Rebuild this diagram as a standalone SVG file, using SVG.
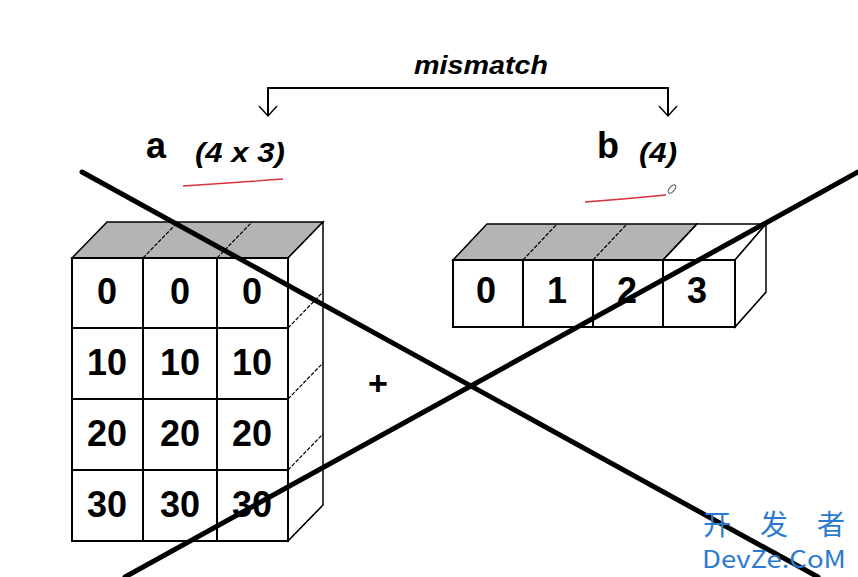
<svg xmlns="http://www.w3.org/2000/svg" width="858" height="577" viewBox="0 0 858 577">
<style>
.edge{fill:none;stroke:#000;stroke-width:2}
.thin{fill:none;stroke:#000;stroke-width:1.2;stroke-dasharray:4 1.5}
.top{fill:#b4b4b4;stroke:#000;stroke-width:1.5}
.side{fill:#fff;stroke:#000;stroke-width:1.5}
.cell{fill:#fff;stroke:#000;stroke-width:2}
.num{font-family:"Liberation Sans",Arial,sans-serif;font-weight:bold;font-size:36px;fill:#000;text-anchor:middle}
.lbl{font-family:"Liberation Sans",Arial,sans-serif;font-weight:bold;fill:#000}
.it{font-family:"Liberation Sans Narrow","Liberation Sans",Arial,sans-serif;font-weight:bold;font-style:italic;fill:#000}
.cross{stroke:#000;stroke-width:5;stroke-linecap:round}
.red{fill:none;stroke:#d9303a;stroke-width:1.3}
.wm{font-family:"Noto Sans CJK SC","Noto Sans",sans-serif;fill:#2b7ad0}
.vee{fill:none;stroke:#000;stroke-width:1.4}
</style>
<rect width="858" height="577" fill="#fff"/>

<g id="connectors">
<path class="edge" d="M268,116 V88 H668 V116" stroke-width="1.8"/>
<path class="vee" d="M259,106 L268,116 L277,106"/>
<path class="vee" d="M659,106 L668,116 L677,106"/>
<text class="it" x="481" y="74" font-size="25" text-anchor="middle" textLength="134" lengthAdjust="spacingAndGlyphs">mismatch</text>
</g>

<g id="label-a">
<text class="lbl" x="146" y="158" font-size="36">a</text>
<text class="it" x="195" y="162" font-size="28" textLength="90" lengthAdjust="spacingAndGlyphs">(4 x 3)</text>
<path class="red" d="M183,186 Q230,183 283,179"/>
</g>

<g id="label-b">
<text class="lbl" x="597" y="158" font-size="36">b</text>
<text class="it" x="639" y="162" font-size="28" textLength="38" lengthAdjust="spacingAndGlyphs">(4)</text>
<path class="red" d="M585,202 Q625,199 666,195"/>
<ellipse cx="672" cy="189" rx="2.5" ry="5" transform="rotate(40 672 189)" fill="#fff" stroke="#555" stroke-width="1"/>
</g>

<g id="array-a">
<polygon class="top" points="72,258 288,258 323,222 107,222"/>
<line class="thin" x1="143" y1="258" x2="178" y2="222"/>
<line class="thin" x1="217" y1="258" x2="252" y2="222"/>
<polygon class="side" points="288,258 323,222 323,505 288,541"/>
<line class="thin" x1="288" y1="328" x2="323" y2="292"/>
<line class="thin" x1="288" y1="399" x2="323" y2="363"/>
<line class="thin" x1="288" y1="470" x2="323" y2="434"/>
<line class="thin" x1="288" y1="541" x2="323" y2="505"/>
<rect class="cell" x="72" y="258" width="216" height="283"/>
<path class="edge" d="M143,258 V541 M217,258 V541 M72,328 H288 M72,399 H288 M72,470 H288"/>
<text class="num" x="107" y="304">0</text>
<text class="num" x="180" y="304">0</text>
<text class="num" x="252" y="304">0</text>
<text class="num" x="107" y="375">10</text>
<text class="num" x="180" y="375">10</text>
<text class="num" x="252" y="375">10</text>
<text class="num" x="107" y="446">20</text>
<text class="num" x="180" y="446">20</text>
<text class="num" x="252" y="446">20</text>
<text class="num" x="107" y="517">30</text>
<text class="num" x="180" y="517">30</text>
<text class="num" x="252" y="517">30</text>
</g>

<g id="array-b">
<polygon class="top" points="453,260 663,260 697,224 487,224"/>
<polygon class="side" points="663,260 735,260 766,224 697,224"/>
<line class="thin" x1="523" y1="260" x2="557" y2="224"/>
<line class="thin" x1="593" y1="260" x2="627" y2="224"/>
<line class="thin" x1="663" y1="260" x2="697" y2="224"/>
<polygon class="side" points="735,260 766,224 766,292 735,327"/>
<line class="thin" x1="735" y1="327" x2="766" y2="292"/>
<rect class="cell" x="453" y="260" width="282" height="67"/>
<path class="edge" d="M523,260 V327 M593,260 V327 M663,260 V327"/>
<text class="num" x="486" y="303" font-size="34">0</text>
<text class="num" x="557" y="303" font-size="34">1</text>
<text class="num" x="627" y="303" font-size="34">2</text>
<text class="num" x="697" y="303" font-size="34">3</text>
</g>

<g id="plus">
<text class="lbl" x="378" y="395" font-size="34" text-anchor="middle">+</text>
</g>

<g id="cross">
<line class="cross" x1="82" y1="172" x2="818" y2="577"/>
<line class="cross" x1="858" y1="172" x2="125" y2="577"/>
</g>

<g id="watermark">
<text class="wm" x="703" y="535" font-size="28" textLength="142" lengthAdjust="spacing">开 发 者</text>
<text class="wm" x="702" y="568" font-size="24" textLength="144" lengthAdjust="spacingAndGlyphs">DevZe.CoM</text>
</g>
</svg>
